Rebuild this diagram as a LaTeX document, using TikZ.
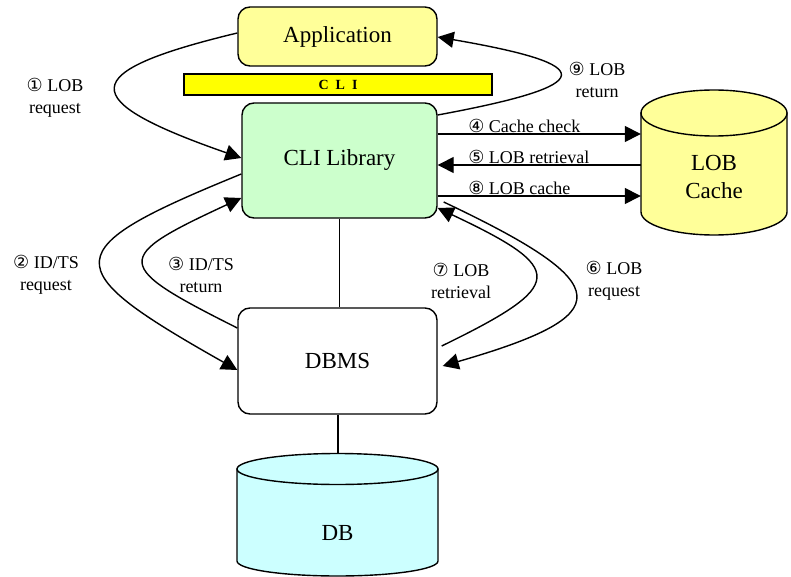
\documentclass[tikz,border=0pt]{standalone}
\usepackage{fontspec}
\setmainfont{Liberation Serif}
\newfontfamily\circfont{DejaVu Sans}
\usepackage{xcolor}
\usetikzlibrary{arrows.meta, calc}
\definecolor{appyellow}{HTML}{FFFF99}
\definecolor{cliyellow}{HTML}{FFFF00}
\definecolor{libgreen}{HTML}{CCFFCC}
\definecolor{dbcyan}{HTML}{CCFFFF}
\newcommand{\cnum}[1]{{\circfont\fontsize{18}{20}\selectfont #1}}
\tikzset{
  box/.style = {draw, line width=1.4pt, rounded corners=12pt, inner sep=0pt, font=\fontsize{23}{28}\selectfont},
  flow/.style = {line width=1.4pt, -{Triangle[length=16pt,width=16pt]}},
  lbl/.style = {align=center, inner sep=0pt, font=\fontsize{18}{22}\selectfont}
}

\begin{document}
\begin{tikzpicture}[x=1pt, y=-1pt]
    \useasboundingbox (0,0) rectangle (791,577);
    % Boxes
    \node[box, fill=appyellow, minimum width=199pt, minimum height=59pt] (app) at (337.5,36.5) {Application};
    \node[draw, line width=1.4pt, fill=cliyellow, inner sep=0pt, minimum width=308pt, minimum height=21pt,
          font=\fontsize{14}{16}\selectfont\bfseries] (cli) at (338,84.5) {C\hspace{7pt}L\hspace{7pt}I};
    \node[box, fill=libgreen, minimum width=195pt, minimum height=115pt] (lib) at (339.5,160.5) {CLI Library};
    \node[box, fill=white, minimum width=199pt, minimum height=106pt] (dbms) at (337.5,361) {DBMS};
    % Cylinder LOB cache
    \filldraw[line width=1.4pt, fill=appyellow] (641,113) -- (641,212)
        arc[start angle=180, end angle=0, x radius=73, y radius=23] -- (787,113) -- cycle;
    \filldraw[line width=1.4pt, fill=appyellow] (714,113) ellipse[x radius=73, y radius=23];
    \node[lbl, minimum width=146pt, font=\fontsize{23}{28}\selectfont] (cache) at (714,176.5) {LOB\\Cache};
    % Cylinder DB
    \filldraw[line width=1.4pt, fill=dbcyan] (237,469) -- (237,561)
        arc[start angle=180, end angle=0, x radius=100.5, y radius=15] -- (438,469) -- cycle;
    \filldraw[line width=1.4pt, fill=dbcyan] (337.5,469) ellipse[x radius=100.5, y radius=15.5];
    \coordinate (dbtop) at (338,453.5);
    \node[lbl, font=\fontsize{23}{28}\selectfont] (db) at (337.5,533) {DB};
    % Plain links
    \draw[line width=1.4pt] (lib.south) -- (lib.south |- dbms.north);
    \draw[line width=1.4pt] (dbms.south -| dbtop) -- (dbtop);
    % Cache arrows
    \draw[flow] (lib.east |- 0,134) -- (cache.west |- 0,134)
        node[lbl, anchor=south west, pos=0.147, yshift=1pt] (l4) {\cnum{④} Cache check};
    \draw[flow] (cache.west |- 0,165) -- (lib.east |- 0,165)
        node[lbl, anchor=south west, pos=0.853, yshift=1pt] (l5) {\cnum{⑤} LOB retrieval};
    \draw[flow] (lib.east |- 0,196) -- (cache.west |- 0,196)
        node[lbl, anchor=south west, pos=0.147, yshift=1pt] (l8) {\cnum{⑧} LOB cache};
    % Application <-> CLI Library
    \draw[flow] (app.west |- 0,33) .. controls (75,72) and (75,100) .. (lib.west |- 0,158);
    \node[lbl] (l1) at (55,98) {\cnum{①} LOB\\request};
    \draw[flow] (lib.east |- 0,115) .. controls (600,85) and (600,65) .. (app.east |- 0,37);
    \node[lbl] (l9) at (597,80) {\cnum{⑨} LOB\\return};
    % CLI Library <-> DBMS
    \draw[flow] (lib.west |- 0,174) .. controls (55,250) and (55,267) .. (dbms.west |- 0,370);
    \node[lbl] (l2) at (46,275) {\cnum{②} ID/TS\\request};
    \draw[flow] (dbms.west |- 0,328) .. controls (112,265) and (112,258) .. (lib.west |- 0,198);
    \node[lbl] (l3) at (201,275) {\cnum{③} ID/TS\\return};
    \draw[flow] ($(dbms.east |- 0,346)+(4,0)$) .. controls (567,285) and (567,269) .. (lib.east |- 0,208);
    \node[lbl] (l7) at (461,281) {\cnum{⑦} LOB\\retrieval};
    \draw[flow] ($(lib.east |- 0,202)+(6,0)$) .. controls (619,285) and (619,315) .. ($(dbms.east |- 0,366)+(5,0)$);
    \node[lbl] (l6) at (614,281) {\cnum{⑥} LOB\\request};
\end{tikzpicture}
\end{document}
